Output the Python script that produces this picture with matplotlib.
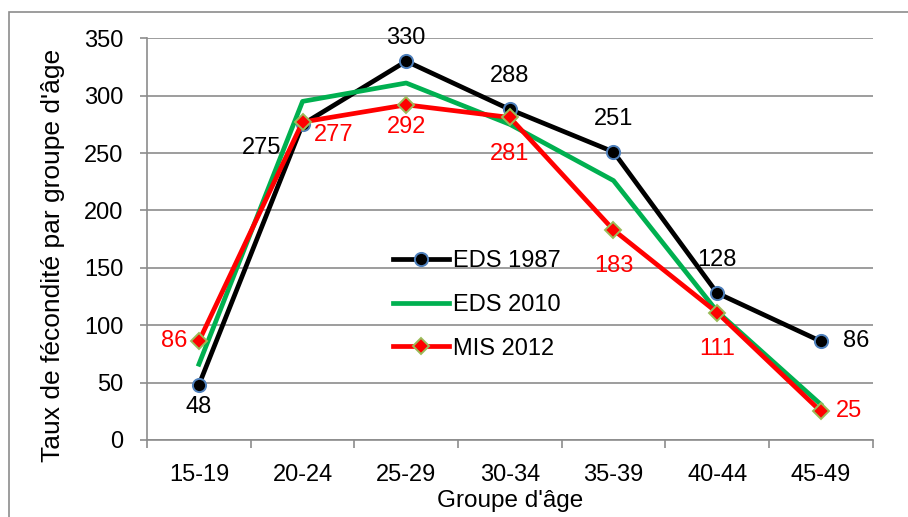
import numpy as np
import matplotlib.pyplot as plt
from matplotlib.patches import Rectangle

plt.rcParams['font.family'] = ['Liberation Sans', 'DejaVu Sans']

# Age groups and fertility rates per 1000 women
age_groups = ['15-19', '20-24', '25-29', '30-34', '35-39', '40-44', '45-49']
eds_1987 = [48, 275, 330, 288, 251, 128, 86]
eds_2010 = [66, 295, 311, 275, 226, 112, 31]
mis_2012 = [86, 277, 292, 281, 183, 111, 25]

# Where each data label goes relative to its point
pos_1987 = ['below_near', 'lower_left', 'top', 'above', 'above', 'above',
            'right_far']
pos_2012 = ['left', 'lower_right', 'below_near', 'below', 'below', 'below',
            'right']

# (dx, dy) in points, horizontal alignment
offsets = {'above': (0, 24, 'center'),
           'top': (0, 17, 'center'),
           'below': (0, -26, 'center'),
           'below_near': (0, -16, 'center'),
           'lower_left': (-15, -17, 'right'),
           'lower_right': (8, -9, 'left'),
           'left': (-8, 0, 'right'),
           'right': (11, 0, 'left'),
           'right_far': (16, 0, 'left')}


def add_labels(ax, x, values, positions, color):
    for xi, v, p in zip(x, values, positions):
        dx, dy, ha = offsets[p]
        ax.annotate(str(v), (xi, v), xytext=(dx, dy),
                    textcoords='offset points', ha=ha, va='center',
                    fontsize=17, color=color, zorder=6)


fig = plt.figure(figsize=(9.08, 5.17), dpi=100)
ax = fig.add_axes([0.162, 0.149, 0.799, 0.777])

# Outer chart border
fig.patches.append(Rectangle((9 / 908, -0.05), 1.0, 1.05 - 12 / 517,
                             transform=fig.transFigure, fill=False,
                             edgecolor='#8c8c8c', linewidth=1.2))

x = np.arange(len(age_groups))

ax.plot(x, eds_1987, color='black', linewidth=3.4, marker='o',
        markersize=9.5, markerfacecolor='black', markeredgecolor='#4F81BD',
        markeredgewidth=1.4, label='EDS 1987', zorder=3)
ax.plot(x, eds_2010, color='#00B050', linewidth=3.4, label='EDS 2010',
        zorder=3)
ax.plot(x, mis_2012, color='#FF0000', linewidth=3.4, marker='D',
        markersize=8, markerfacecolor='#FF0000', markeredgecolor='#9BBB59',
        markeredgewidth=1.4, label='MIS 2012', zorder=4)

add_labels(ax, x, eds_1987, pos_1987, 'black')
add_labels(ax, x, mis_2012, pos_2012, '#FF0000')

ax.set_xlim(-0.5, len(age_groups) - 0.5)
ax.set_ylim(0, 350)
ax.set_yticks(np.arange(0, 351, 50))
ax.set_xticks(x)
ax.set_xticklabels(age_groups)
ax.set_xticks(np.arange(-0.5, len(age_groups)), minor=True)
ax.tick_params(axis='x', which='major', length=0, labelsize=17, pad=17)
ax.tick_params(axis='x', which='minor', length=6, color='#8c8c8c', width=1.2)
ax.tick_params(axis='y', length=5, color='#8c8c8c', width=1.2,
               labelsize=17, pad=12)

ax.grid(axis='y', color='#8c8c8c', linewidth=1.2)
ax.set_axisbelow(True)
for side in ['top', 'right']:
    ax.spines[side].set_visible(False)
for side in ['left', 'bottom']:
    ax.spines[side].set_color('#8c8c8c')
    ax.spines[side].set_linewidth(1.2)

ax.set_ylabel("Taux de fécondité par groupe d'âge", fontsize=19)
ax.yaxis.set_label_coords(-0.113, 0.46)
ax.set_xlabel("Groupe d'âge", fontsize=17.5)
ax.xaxis.set_label_coords(0.5, -0.125)

ax.legend(loc='center left', bbox_to_anchor=(0.339, 0.336), frameon=False,
          fontsize=17, handlelength=2.35, handletextpad=0.17,
          labelspacing=0.92, borderpad=0, borderaxespad=0)

fig.savefig('out.png', dpi=100)
